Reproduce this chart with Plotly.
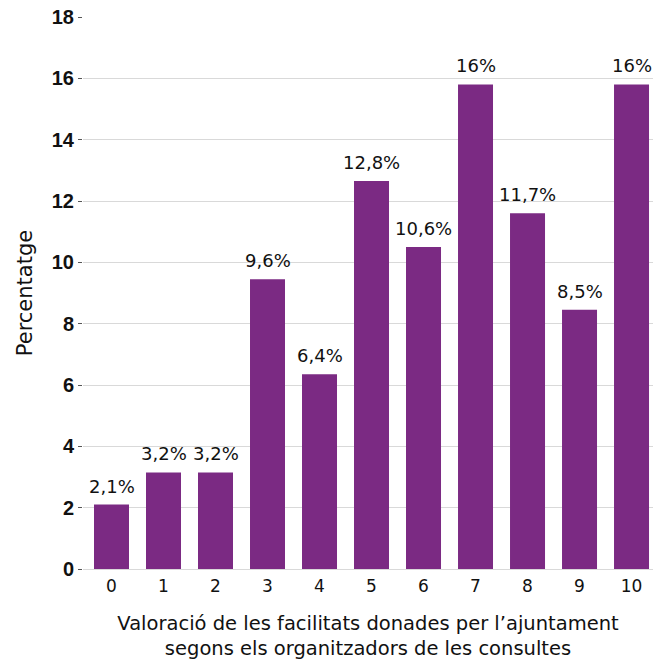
import plotly.graph_objects as go

categories = ["0", "1", "2", "3", "4", "5", "6", "7", "8", "9", "10"]
values = [2.1, 3.15, 3.15, 9.45, 6.35, 12.65, 10.5, 15.8, 11.6, 8.45, 15.8]
labels = ["2,1%", "3,2%", "3,2%", "9,6%", "6,4%", "12,8%", "10,6%", "16%", "11,7%", "8,5%", "16%"]
y_ticks = [0, 2, 4, 6, 8, 10, 12, 14, 16, 18]

FONT = "DejaVu Sans, sans-serif"
BOLD = "Liberation Sans, Arial, sans-serif"

fig = go.Figure(
    go.Bar(
        x=categories,
        y=values,
        marker=dict(color="#7B2A83", line=dict(width=0)),
        hoverinfo="skip",
    )
)

for cat, val, lab in zip(categories, values, labels):
    fig.add_annotation(
        x=cat,
        y=val,
        text=lab,
        showarrow=False,
        yanchor="bottom",
        xanchor="center",
        yshift=6,
        font=dict(size=18, color="#111111", family=FONT),
    )

fig.update_layout(
    width=662,
    height=660,
    margin=dict(l=83, r=9, t=17, b=91),
    paper_bgcolor="white",
    plot_bgcolor="white",
    bargap=0.327,
    showlegend=False,
    font=dict(family=FONT, color="#111111"),
    xaxis=dict(
        type="category",
        range=[-0.548, 10.413],
        automargin=False,
        tickfont=dict(size=17, family=FONT, color="#111111"),
        ticklabelstandoff=5,
        showgrid=False,
        showline=False,
        ticks="",
        title=dict(
            text="Valoració de les facilitats donades per l’ajuntament<br>segons els organitzadors de les consultes",
            font=dict(size=19.5, family=FONT, color="#111111"),
            standoff=23,
        ),
    ),
    yaxis=dict(
        range=[0, 18],
        automargin=False,
        ticklabeloverflow="allow",
        tickvals=y_ticks,
        ticktext=[f"<b>{v}</b>" for v in y_ticks],
        tickfont=dict(size=20, family=BOLD, color="#111111"),
        showgrid=True,
        gridcolor="#d9d9d9",
        gridwidth=1,
        zeroline=True,
        zerolinecolor="#d9d9d9",
        zerolinewidth=1,
        ticks="outside",
        ticklen=4,
        tickcolor="#555555",
        tickwidth=1,
        showline=False,
        title=dict(
            text="Percentatge",
            font=dict(size=21, family=FONT, color="#111111"),
            standoff=13,
        ),
    ),
)

fig.write_html(
    "out.html",
    config={"displayModeBar": False},
    post_script="document.body.style.margin='0';",
)
